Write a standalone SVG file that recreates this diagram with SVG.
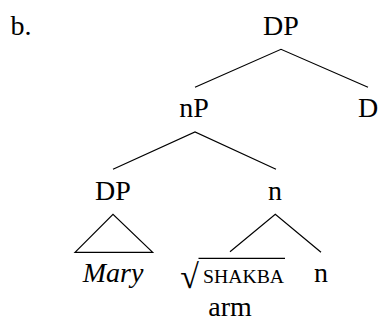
<svg xmlns="http://www.w3.org/2000/svg" width="380" height="321" viewBox="0 0 380 321">
<rect width="380" height="321" fill="#fff"/>
<text font-family="Liberation Serif, Times New Roman, serif" font-size="28" text-anchor="middle" x="21" y="34.5">b.</text>
<g id="dp-root"><text font-family="Liberation Serif, Times New Roman, serif" font-size="28" text-anchor="middle" x="281" y="34.5">DP</text></g>
<g id="np"><text font-family="Liberation Serif, Times New Roman, serif" font-size="28" text-anchor="middle" x="194" y="117">nP</text></g>
<g id="d"><text font-family="Liberation Serif, Times New Roman, serif" font-size="28" text-anchor="middle" x="368" y="117">D</text></g>
<g id="dp-mary"><text font-family="Liberation Serif, Times New Roman, serif" font-size="28" text-anchor="middle" x="113" y="200">DP</text></g>
<g id="n-mid"><text font-family="Liberation Serif, Times New Roman, serif" font-size="28" text-anchor="middle" x="275" y="200">n</text></g>
<g id="mary"><text font-family="Liberation Serif, Times New Roman, serif" font-size="28" text-anchor="middle" font-style="italic" x="113" y="282">Mary</text></g>
<g id="root-shakba">
<text font-family="Liberation Serif, Times New Roman, serif" font-size="34" text-anchor="middle" x="189.5" y="288">&#8730;</text>
<line x1="198.5" y1="258.3" x2="285" y2="258.3" stroke="#000" stroke-width="1.2"/>
<text font-family="Liberation Serif, Times New Roman, serif" font-size="19" x="203" y="282.7" textLength="81" lengthAdjust="spacingAndGlyphs">SHAKBA</text>
<text font-family="Liberation Serif, Times New Roman, serif" font-size="28" text-anchor="middle" x="230" y="316">arm</text>
</g>
<g id="n-low"><text font-family="Liberation Serif, Times New Roman, serif" font-size="28" text-anchor="middle" x="321" y="282">n</text></g>
<g id="edges" stroke="#000" stroke-width="1.2" fill="none">
<polyline points="195,87.3 281,49.3 368,87.3"/>
<polyline points="113,169.3 195,132 276,169.3"/>
<polygon points="75,252.3 113,214.3 152.7,252.3"/>
<polyline points="230,251.7 275.3,214.3 321,252.3"/>
</g>
</svg>
